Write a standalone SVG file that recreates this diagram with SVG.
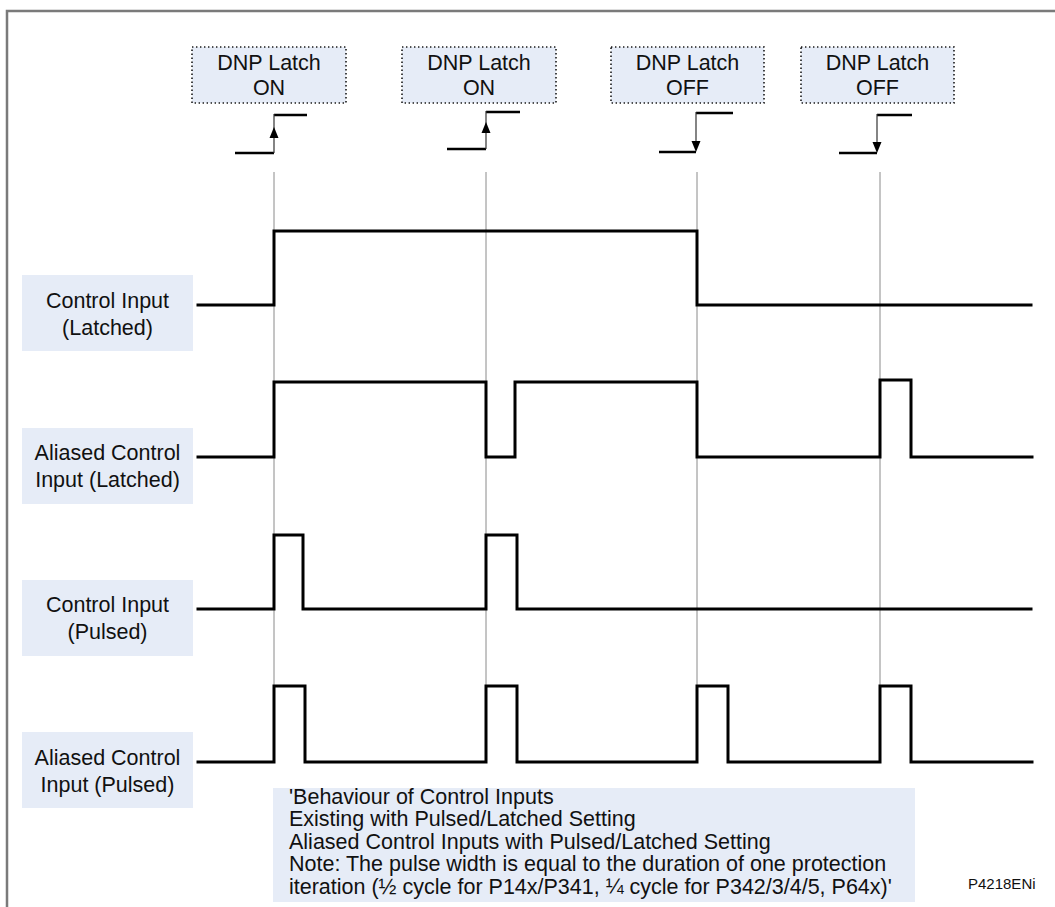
<svg xmlns="http://www.w3.org/2000/svg" width="1055" height="907" viewBox="0 0 1055 907">
<defs>
<style>
.frame{fill:#ffffff;stroke:#7a7a7a;stroke-width:2.5}
.lbl{fill:#e6ecf7;stroke:none}
.dnp{fill:#e6ecf7;stroke:#1a1a1a;stroke-width:1.6;stroke-dasharray:1.4 2.6}
.t{font-family:"Liberation Sans",Arial,sans-serif;font-size:21.5px;fill:#111;text-anchor:middle}
.n{font-family:"Liberation Sans",Arial,sans-serif;font-size:21.5px;fill:#111}
.code{font-family:"Liberation Sans",Arial,sans-serif;font-size:15px;fill:#111}
.sig{fill:none;stroke:#000;stroke-width:3;stroke-linejoin:miter;stroke-linecap:square}
.step{fill:none;stroke:#000;stroke-width:2.5}
.stepv{fill:none;stroke:#333;stroke-width:1.2}
.guide{fill:none;stroke:#8a8a8a;stroke-width:1}
.ah{fill:#000}
</style>
</defs>
<rect class="frame" x="7" y="11" width="1100" height="950"/>

<g id="dnp-on-1">
<rect class="dnp" x="192" y="47" width="154" height="56"/>
<text class="t" x="269" y="69.5">DNP Latch</text>
<text class="t" x="269" y="94.5">ON</text>
</g>
<g id="dnp-on-2">
<rect class="dnp" x="402" y="47" width="154" height="56"/>
<text class="t" x="479" y="69.5">DNP Latch</text>
<text class="t" x="479" y="94.5">ON</text>
</g>
<g id="dnp-off-1">
<rect class="dnp" x="611" y="47" width="153" height="56"/>
<text class="t" x="687.5" y="69.5">DNP Latch</text>
<text class="t" x="687.5" y="94.5">OFF</text>
</g>
<g id="dnp-off-2">
<rect class="dnp" x="801" y="47" width="153" height="56"/>
<text class="t" x="877.5" y="69.5">DNP Latch</text>
<text class="t" x="877.5" y="94.5">OFF</text>
</g>

<g id="label-ci-latched">
<rect class="lbl" x="22" y="275" width="171" height="76"/>
<text class="t" x="107.5" y="307.5">Control Input</text>
<text class="t" x="107.5" y="334.5">(Latched)</text>
</g>
<g id="label-aci-latched">
<rect class="lbl" x="22" y="428" width="171" height="76"/>
<text class="t" x="107.5" y="459.5">Aliased Control</text>
<text class="t" x="107.5" y="486.5">Input (Latched)</text>
</g>
<g id="label-ci-pulsed">
<rect class="lbl" x="22" y="580" width="171" height="76"/>
<text class="t" x="107.5" y="611.5">Control Input</text>
<text class="t" x="107.5" y="638.5">(Pulsed)</text>
</g>
<g id="label-aci-pulsed">
<rect class="lbl" x="22" y="732" width="171" height="76"/>
<text class="t" x="107.5" y="764.5">Aliased Control</text>
<text class="t" x="107.5" y="791.5">Input (Pulsed)</text>
</g>

<g id="note">
<rect class="lbl" x="273" y="788" width="642" height="114"/>
<text class="n" x="289" y="803.5">'Behaviour of Control Inputs</text>
<text class="n" x="289" y="826">Existing with Pulsed/Latched Setting</text>
<text class="n" x="289" y="848.5">Aliased Control Inputs with Pulsed/Latched Setting</text>
<text class="n" x="289" y="871">Note: The pulse width is equal to the duration of one protection</text>
<text class="n" x="289" y="893.5">iteration (½ cycle for P14x/P341, ¼ cycle for P342/3/4/5, P64x)'</text>
</g>
<g id="code">
<text class="code" x="968" y="889">P4218ENi</text>
</g>

<g id="connectors">
<line class="guide" x1="274" y1="172" x2="274" y2="762"/>
<line class="guide" x1="486" y1="172" x2="486" y2="762"/>
<line class="guide" x1="697" y1="172" x2="697" y2="762"/>
<line class="guide" x1="880" y1="172" x2="880" y2="762"/>

<polyline class="step" points="235,153 274,153"/>
<polyline class="step" points="274,115 307,115"/>
<line class="stepv" x1="274" y1="153" x2="274" y2="114"/>
<polygon class="ah" points="274,127 269.5,138 278.5,138"/>

<polyline class="step" points="447,149 486,149"/>
<polyline class="step" points="486,112 520,112"/>
<line class="stepv" x1="486" y1="149" x2="486" y2="111"/>
<polygon class="ah" points="486,122 481.5,133 490.5,133"/>

<polyline class="step" points="659,152 696,152"/>
<polyline class="step" points="696,113 733,113"/>
<line class="stepv" x1="696" y1="112" x2="696" y2="145"/>
<polygon class="ah" points="696,152 691.5,141 700.5,141"/>

<polyline class="step" points="839,153 877,153"/>
<polyline class="step" points="877,115 912,115"/>
<line class="stepv" x1="877" y1="114" x2="877" y2="146"/>
<polygon class="ah" points="877,153 872.5,142 881.5,142"/>

<polyline class="sig" points="198,305 274,305 274,231 697,231 697,305 1031,305"/>
<polyline class="sig" points="198,457 274,457 274,382 486,382 486,457 515,457 515,382 697,382 697,457 880,457 880,380 911,380 911,457 1032,457"/>
<polyline class="sig" points="198,609 274,609 274,535 303,535 303,609 486,609 486,535 517,535 517,609 1031,609"/>
<polyline class="sig" points="198,762 274,762 274,686 305,686 305,762 486,762 486,686 517,686 517,762 697,762 697,686 728,686 728,762 880,762 880,686 911,686 911,762 1032,762"/>
</g>
</svg>
